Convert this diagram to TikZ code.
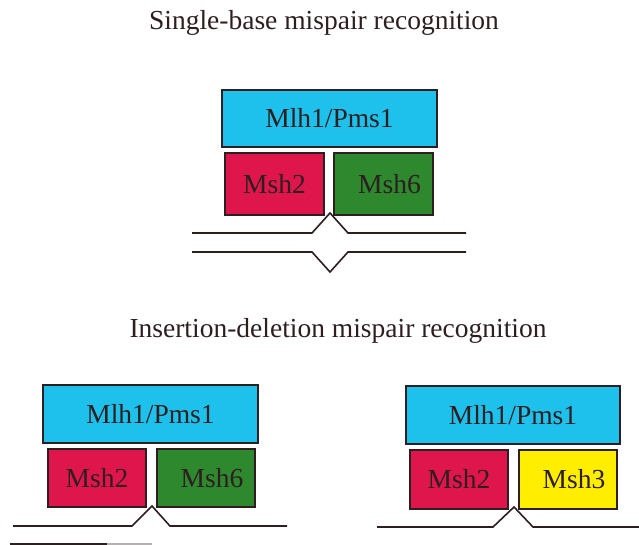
\documentclass[tikz,border=0pt]{standalone}
\usepackage{fontspec}
\setmainfont{Liberation Serif}
\definecolor{mlhblue}{RGB}{30,192,236}
\definecolor{mshred}{RGB}{222,22,76}
\definecolor{mshgreen}{RGB}{46,136,46}
\definecolor{mshyellow}{RGB}{255,238,0}
\definecolor{inkdark}{RGB}{45,30,32}

\tikzset{
    bigtext/.style={font=\fontsize{27.5}{30}\selectfont, text=inkdark},
    subunit/.style={bigtext, draw=inkdark, line width=1.8pt, inner sep=0pt},
    rightunit/.style={subunit, execute at begin node={\hspace*{12pt}}},
    strand/.style={draw=inkdark, line width=1.6pt, line join=miter}
}

\begin{document}
\begin{tikzpicture}[x=1pt, y=-1pt]
        \useasboundingbox (0,0) rectangle (639,545);

        % Titles
        \node[bigtext, anchor=base] (titleSingle) at (324,30) {Single-base mispair recognition};
        \node[bigtext, anchor=base] (titleIndel) at (338,337) {Insertion-deletion mispair recognition};

        % Single-base mispair: Mlh1/Pms1 on top of Msh2/Msh6
        \node[subunit, fill=mlhblue, minimum width=215pt, minimum height=57pt] (mlhA) at (329.5,118.5) {Mlh1/Pms1};
        \node[subunit, fill=mshred, minimum width=99pt, minimum height=62pt] (mshTwoA) at (274.5,184) {Msh2};
        \node[rightunit, fill=mshgreen, minimum width=99pt, minimum height=62pt] (mshSixA) at (383.5,184) {Msh6};

        % mispaired duplex
        \draw[strand] (192,233) -- (312,233) -- (330,213) -- (348,233) -- (466,233);
        \draw[strand] (192,252) -- (312,252) -- (330,272) -- (348,252) -- (466,252);

        % Insertion-deletion mispair, left: Msh2/Msh6
        \node[subunit, fill=mlhblue, minimum width=215pt, minimum height=58pt] (mlhB) at (150.5,414) {Mlh1/Pms1};
        \node[subunit, fill=mshred, minimum width=98pt, minimum height=58pt] (mshTwoB) at (97,478) {Msh2};
        \node[rightunit, fill=mshgreen, minimum width=98pt, minimum height=58pt] (mshSixB) at (206,478) {Msh6};

        \draw[strand] (13,526) -- (132,526) -- (152,506) -- (170,526) -- (287,526);
        \draw[strand] (10,544) -- (107,544);
        \draw[strand, draw=inkdark!35] (107,544) -- (152,544);

        % Insertion-deletion mispair, right: Msh2/Msh3
        \node[subunit, fill=mlhblue, minimum width=214pt, minimum height=58pt] (mlhC) at (513,415) {Mlh1/Pms1};
        \node[subunit, fill=mshred, minimum width=98pt, minimum height=59pt] (mshTwoC) at (459,479.5) {Msh2};
        \node[rightunit, fill=mshyellow, minimum width=98pt, minimum height=59pt] (mshThreeC) at (568,479.5) {Msh3};

        \draw[strand] (377,527) -- (493,527) -- (514,507) -- (533,527) -- (639,527);

\end{tikzpicture}
\end{document}
